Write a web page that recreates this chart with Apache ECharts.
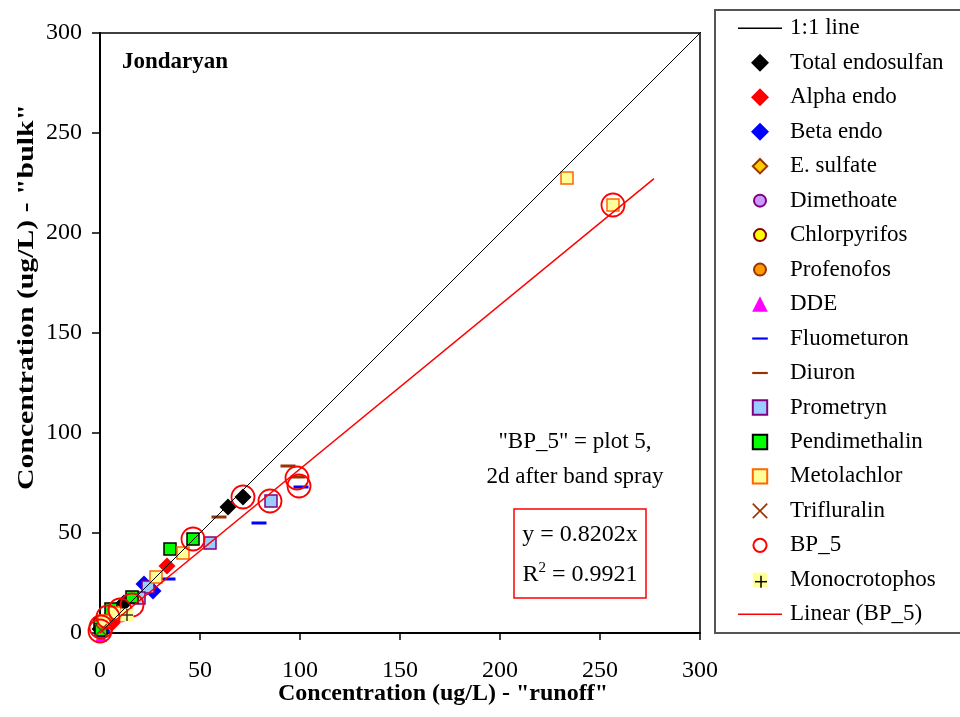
<!DOCTYPE html>
<html>
<head>
<meta charset="utf-8">
<script src="https://cdn.jsdelivr.net/npm/echarts@6/dist/echarts.min.js"></script>
<style>html,body{margin:0;padding:0;background:#fff}#c{width:960px;height:717px}</style>
</head>
<body>
<div id="c"></div>
<script>
// ---- data (x = runoff, y = bulk), ug/L ----
const xTicks = [0, 50, 100, 150, 200, 250, 300];
const yTicks = [0, 50, 100, 150, 200, 250, 300];
const oneToOne = [[0, 0], [307, 307]];
const totalEndosulfan = [[64, 63], [71.5, 68], [12, 15], [0, 2]];
const alphaEndo = [[33.5, 33.5], [6, 5]];
const betaEndo = [[22, 24.5], [26.5, 21], [1, 1]];
const eSulfate = [[1, 1]];
const dimethoate = [[0.2, 0.5]];
const chlorpyrifos = [[0.5, 0.4]];
const profenofos = [[1, 1.2]];
const dde = [[0.5, -1.5]];
const fluometuron = [[34, 27], [79.5, 55], [100.5, 73], [3, 3]];
const diuron = [[59.5, 58], [94, 83.5], [99, 78]];
const prometryn = [[24, 23], [55, 45], [85.5, 66], [19.5, 17.5]];
const pendimethalin = [[46.5, 47], [35, 42], [16, 18], [5.5, 12], [0, 4.5], [0.5, 1.5]];
const metolachlor = [[233.5, 227.5], [256.5, 214], [41.5, 40], [28, 28], [7.5, 10], [2, 6]];
const trifluralin = [[0.5, 1.5]];
const bp5 = [[46.5, 47], [71.5, 68], [85, 66], [98.5, 77.5], [99.5, 73.5], [256.5, 214],
             [16, 14], [10, 11.5], [4, 8], [0.5, 3], [0, 1]];
const monocrotophos = [[13.5, 9]];
const linearBP5 = [[0, 0], [277, 227.2]];

const FONT = '"Liberation Serif", "Times New Roman", serif';
const P = 'path://M0,0M15,15';
const icons = {
  line: 'path://M0,0M44,18M0,8.3H44V9.7H0Z',
  diamond: P + 'M7.5,0L15,7.5L7.5,15L0,7.5Z',
  smallDiamond: P + 'M7.5,1.5L13.5,7.5L7.5,13.5L1.5,7.5Z',
  circle: P + 'M12.5,7.5A5,5,0,1,1,2.5,7.5A5,5,0,1,1,12.5,7.5Z',
  ring: P + 'M13,7.5A5.5,5.5,0,1,1,2,7.5A5.5,5.5,0,1,1,13,7.5Z',
  triangle: P + 'M7.5,1L14,14H1Z',
  dash: P + 'M1,6.6H14V8.4H1Z',
  square: P + 'M1.5,1.5H13.5V13.5H1.5Z',
  cross: P + 'M1,2L2,1L7.5,6.5L13,1L14,2L8.5,7.5L14,13L13,14L7.5,8.5L2,14L1,13L6.5,7.5Z'
};
const xPath = 'path://M1,2L2,1L7.5,6.5L13,1L14,2L8.5,7.5L14,13L13,14L7.5,8.5L2,14L1,13L6.5,7.5Z';
const plusPath = 'path://M0,6H12M6,0V12';

function sc(name, data, symbol, size, color, border, bw) {
  return {
    name, type: 'scatter', data, symbol, symbolSize: size, clip: false,
    itemStyle: { color, borderColor: border || color, borderWidth: border ? (bw || 1.5) : 0, opacity: 1 },
    emphasis: { disabled: true }
  };
}

const series = [
  { name: '1:1 line', type: 'line', data: oneToOne, symbol: 'none', clip: false,
    lineStyle: { color: '#000', width: 1 }, itemStyle: { color: '#000' }, emphasis: { disabled: true } },
  sc('Total endosulfan', totalEndosulfan, 'diamond', 17, '#000000'),
  sc('Alpha endo', alphaEndo, 'diamond', 17, '#FF0000'),
  sc('Beta endo', betaEndo, 'diamond', 17, '#0000FF'),
  sc('E. sulfate', eSulfate, 'diamond', 12, '#FFCC00', '#993300', 1),
  sc('Dimethoate', dimethoate, 'circle', 9, '#CC99FF', '#800080', 1),
  sc('Chlorpyrifos', chlorpyrifos, 'circle', 9, '#FFFF00', '#800000', 1),
  sc('Profenofos', profenofos, 'circle', 9, '#FF9900', '#993300', 1),
  sc('DDE', dde, 'triangle', 12, '#FF00FF'),
  sc('Fluometuron', fluometuron, 'rect', [15, 3], '#0000FF'),
  sc('Diuron', diuron, 'rect', [15, 3], '#993300'),
  sc('Prometryn', prometryn, 'rect', 12, '#99CCFF', '#800080', 1.5),
  sc('Pendimethalin', pendimethalin, 'rect', 12, '#00FF00', '#000000', 1.5),
  sc('Metolachlor', metolachlor, 'rect', 12, '#FFFF99', '#FF6600', 1.5),
  sc('Trifluralin', trifluralin, xPath, 13, '#993300'),
  sc('BP_5', bp5, 'circle', 23, 'rgba(255,255,255,0)', '#FF0000', 1.8),
  sc('Monocrotophos', monocrotophos, 'rect', 13, '#FFFF99'),
  { name: 'mono_plus', type: 'scatter', data: monocrotophos, symbol: plusPath, symbolSize: 12, clip: false,
    itemStyle: { color: 'rgba(0,0,0,0)', borderColor: '#000', borderWidth: 1.5 }, emphasis: { disabled: true } },
  { name: 'Linear (BP_5)', type: 'line', data: linearBP5, symbol: 'none', clip: false,
    lineStyle: { color: '#FF0000', width: 1.5 }, itemStyle: { color: '#FF0000' }, emphasis: { disabled: true } }
];

const legendData = [
  { name: '1:1 line', icon: icons.line },
  { name: 'Total endosulfan', icon: icons.diamond },
  { name: 'Alpha endo', icon: icons.diamond },
  { name: 'Beta endo', icon: icons.diamond },
  { name: 'E. sulfate', icon: icons.smallDiamond },
  { name: 'Dimethoate', icon: icons.circle },
  { name: 'Chlorpyrifos', icon: icons.circle },
  { name: 'Profenofos', icon: icons.circle },
  { name: 'DDE', icon: icons.triangle },
  { name: 'Fluometuron', icon: icons.dash },
  { name: 'Diuron', icon: icons.dash },
  { name: 'Prometryn', icon: icons.square },
  { name: 'Pendimethalin', icon: icons.square },
  { name: 'Metolachlor', icon: icons.square },
  { name: 'Trifluralin', icon: icons.cross },
  { name: 'BP_5', icon: icons.ring },
  { name: 'Monocrotophos', icon: icons.square },
  { name: 'Linear (BP_5)', icon: icons.line }
];

const chart = echarts.init(document.getElementById('c'), null, { renderer: 'canvas' });
chart.setOption({
  animation: false,
  backgroundColor: '#fff',
  textStyle: { fontFamily: FONT },
  grid: { left: 100, top: 33, width: 600, height: 600, show: true, borderColor: '#000', borderWidth: 1.5, backgroundColor: 'transparent' },
  xAxis: {
    type: 'value', min: xTicks[0], max: xTicks[xTicks.length - 1], interval: 50,
    axisLine: { show: true, lineStyle: { color: '#000', width: 2 } },
    axisTick: { show: true, inside: false, length: 7, lineStyle: { color: '#000', width: 1.5 } },
    axisLabel: { color: '#000', fontSize: 24, fontFamily: FONT, margin: 26 },
    splitLine: { show: false }
  },
  yAxis: {
    type: 'value', min: yTicks[0], max: yTicks[yTicks.length - 1], interval: 50,
    axisLine: { show: true, lineStyle: { color: '#000', width: 2 } },
    axisTick: { show: true, inside: false, length: 8, lineStyle: { color: '#000', width: 1.5 } },
    axisLabel: { color: '#000', fontSize: 24, fontFamily: FONT, margin: 18 },
    splitLine: { show: false }
  },
  legend: {
    orient: 'vertical', left: 715, top: 10,
    data: legendData,
    itemWidth: 44, itemHeight: 18, itemGap: 11.47,
    padding: [6.8, 80, 7.2, 23],
    backgroundColor: '#fff', borderColor: '#555', borderWidth: 2, borderRadius: 0,
    selectedMode: false,
    textStyle: { fontFamily: FONT, fontSize: 23, color: '#000', lineHeight: 22, padding: [0, 0, 0, 3] },
    z: 10
  },
  graphic: [
    { type: 'text', x: 122, y: 62, z: 20,
      style: { text: 'Jondaryan', font: 'bold 23px ' + FONT, fill: '#000', textVerticalAlign: 'middle' } },
    { type: 'text', x: 443, y: 694, z: 20,
      style: { text: 'Concentration (ug/L) - "runoff"', font: 'bold 24px ' + FONT, fill: '#000', textAlign: 'center', textVerticalAlign: 'middle' } },
    { type: 'text', x: 27, y: 297, rotation: Math.PI / 2, scaleX: 1.24, z: 20,
      style: { text: 'Concentration (ug/L) - "bulk"', font: 'bold 24px ' + FONT, fill: '#000', textAlign: 'center', textVerticalAlign: 'middle' } },
    { type: 'text', x: 575, y: 442, z: 20,
      style: { text: '"BP_5" = plot 5,', font: '23px ' + FONT, fill: '#000', textAlign: 'center', textVerticalAlign: 'middle' } },
    { type: 'text', x: 575, y: 477, z: 20,
      style: { text: '2d after band spray', font: '23px ' + FONT, fill: '#000', textAlign: 'center', textVerticalAlign: 'middle' } },
    { type: 'rect', z: 20, shape: { x: 514, y: 509, width: 132, height: 89 },
      style: { fill: '#fff', stroke: '#FF0000', lineWidth: 1.5 } },
    { type: 'text', x: 580, y: 535, z: 21,
      style: { text: 'y = 0.8202x', font: '24px ' + FONT, fill: '#000', textAlign: 'center', textVerticalAlign: 'middle' } },
    { type: 'text', x: 580, y: 574, z: 21,
      style: { text: '{b|R}{s|2}{b| = 0.9921}', textAlign: 'center', textVerticalAlign: 'middle',
        rich: { b: { font: '24px ' + FONT, fill: '#000', verticalAlign: 'bottom', lineHeight: 26 },
                s: { font: '15px ' + FONT, fill: '#000', verticalAlign: 'top', lineHeight: 26 } } } },
    { type: 'line', z: 40, shape: { x1: 755, y1: 581.7, x2: 767, y2: 581.7 }, style: { stroke: '#000', lineWidth: 1.5 } },
    { type: 'line', z: 40, shape: { x1: 761, y1: 575.7, x2: 761, y2: 587.7 }, style: { stroke: '#000', lineWidth: 1.5 } }
  ],
  series
});
</script>
</body>
</html>
